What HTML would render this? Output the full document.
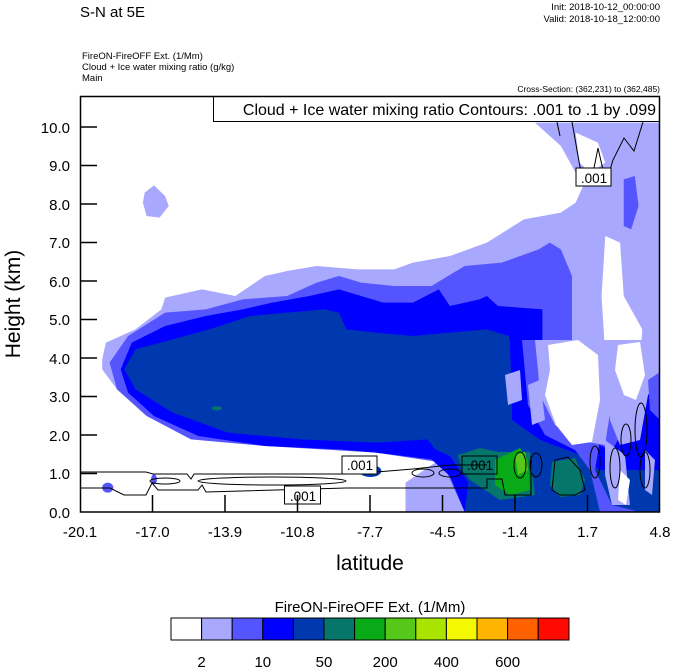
<!DOCTYPE html>
<html><head><meta charset="utf-8"><style>
body{margin:0;background:#fff;}
svg{display:block;font-family:"Liberation Sans",sans-serif;}
</style></head><body>
<svg width="674" height="668" viewBox="0 0 674 668">
<text x="80" y="17" font-size="15">S-N at 5E</text>
<text x="660" y="10" font-size="9.5" text-anchor="end">Init: 2018-10-12_00:00:00</text>
<text x="660" y="22" font-size="9.5" text-anchor="end">Valid: 2018-10-18_12:00:00</text>
<text x="82" y="59" font-size="9.5">FireON-FireOFF Ext.   (1/Mm)</text>
<text x="82" y="70" font-size="9.5">Cloud + Ice water mixing ratio   (g/kg)</text>
<text x="82" y="81" font-size="9.5">Main</text>
<text x="660" y="92" font-size="8.5" text-anchor="end">Cross-Section: (362,231) to (362,485)</text>
<svg x="80" y="96" width="580" height="416" viewBox="0 0 1568 1248" preserveAspectRatio="none">
<path fill="#a8a8ff" d="M60,790 L70,740 150,700 220,640 230,605 330,580 420,600 500,540 560,525 640,510 750,520 850,520 900,500 1000,480 1100,440 1200,370 1300,350 1340,320 1360,270 1300,150 1230,80 1568,80 1568,1248 880,1248 880,1160 920,1130 1000,1070 900,1060 700,1050 500,1040 300,1010 200,960 100,880 60,820Z"/>
<path fill="#a8a8ff" d="M175,290 L200,268 230,300 240,330 215,365 180,360 170,320Z"/>
<path fill="#5555ff" d="M80,800 L130,720 230,650 340,640 440,610 560,600 640,560 700,540 760,560 850,570 950,570 1040,510 1140,500 1240,460 1270,440 1300,460 1330,540 1330,800 1400,900 1450,980 1568,900 1568,1248 1040,1248 980,1100 800,1070 500,1050 300,1030 180,960 100,880Z"/>
<path fill="#5555ff" d="M1470,250 L1500,240 1510,330 1490,400 1470,390Z"/>
<path fill="#0000ff" d="M110,820 L140,740 230,690 340,660 440,640 520,620 620,600 700,580 760,600 820,620 900,620 970,580 1000,630 1080,610 1100,600 1130,630 1250,640 1250,760 1150,790 1110,850 1120,960 1160,1000 1240,1060 1300,1080 1360,1060 1420,1100 1500,940 1568,850 1568,1248 1040,1248 1000,1140 950,1090 800,1070 700,1060 500,1050 320,1020 200,960 130,890Z"/>
<path fill="#0038b0" d="M120,820 L150,760 250,730 350,700 460,660 560,650 660,640 700,650 720,700 800,710 900,720 1000,710 1100,700 1160,720 1160,760 1110,790 1100,900 1110,980 1150,1040 1200,1100 1250,1248 1040,1248 1050,1160 1000,1080 960,1060 940,1030 800,1040 600,1030 400,1010 250,950 150,880Z"/>
<path fill="#fff" d="M1420,420 L1460,440 1470,600 1520,700 1510,880 1460,900 1420,780 1410,600Z"/>
<path fill="#fff" d="M1340,110 L1400,140 1420,200 1380,230 1350,200Z"/>
<ellipse cx="370" cy="937" rx="14" ry="6" fill="#06766a"/>
<ellipse cx="785" cy="1125" rx="30" ry="18" fill="#0038b0"/>
<ellipse cx="75" cy="1175" rx="15" ry="15" fill="#5555ff"/>
<ellipse cx="200" cy="1150" rx="8" ry="15" fill="#5555ff"/>
</svg>
<!-- lower right detail in original coords -->
<path fill="#0038b0" d="M480,340 L510,340 512,420 540,440 580,455 600,470 660,470 660,512 480,512Z"/>
<path fill="#0000ff" d="M510,340 L525,340 530,400 548,430 590,440 610,450 640,440 660,420 660,470 600,470 580,455 540,440 512,420Z"/>
<path fill="#5555ff" d="M522,340 L545,340 540,400 560,430 600,440 595,470 612,505 640,512 600,512 590,470 575,450 545,435 528,405Z"/>
<path fill="#a8a8ff" d="M535,340 L610,340 612,400 605,445 575,440 555,425 540,395 538,370Z"/>
<path fill="#fff" d="M548,345 L578,340 598,355 600,400 592,442 572,445 556,425 545,395 550,370Z"/>
<path fill="#a8a8ff" d="M605,340 L660,340 660,380 648,395 640,440 620,445 610,420Z"/>
<path fill="#fff" d="M618,345 L640,342 645,375 636,400 624,395 615,370Z"/>
<path fill="#5555ff" d="M648,380 L660,372 660,420 650,410Z"/>
<path fill="#a8a8ff" d="M605,440 L625,455 630,505 612,505 605,475Z"/>
<path fill="#fff" d="M620,470 L630,480 626,505 618,500Z"/>
<path fill="#a8a8ff" d="M645,450 L655,460 652,495 645,490Z"/>
<path fill="#a8a8ff" d="M505,375 L520,370 522,400 508,405Z"/>
<path fill="#a8a8ff" d="M528,385 L540,380 545,420 532,425Z"/>
<path fill="#06766a" d="M458,455 L480,448 498,452 530,452 535,495 500,500 485,490 470,480 462,470Z"/>
<path fill="#06766a" d="M552,462 L575,458 585,480 580,495 560,497 550,485Z"/>
<path fill="#08aa18" d="M495,460 L520,448 528,460 530,490 510,495 495,485Z"/>
<path fill="#55c81a" d="M515,455 L525,452 528,470 518,475Z"/>
<g fill="none" stroke="#000" stroke-width="1">
<path d="M80,472 L146,472 153,474 187,474 191,479 194,474 346,474 376,472 413,469 450,465 487,465"/>
<path d="M80,488 L110,488 124,495 146,495 152,483 158,490 198,490 202,485 206,492 346,488 487,488 487,479 502,479 505,495 531,495 531,456"/>
<ellipse cx="272" cy="481" rx="74" ry="4"/>
<ellipse cx="165" cy="481" rx="15" ry="3"/>
<ellipse cx="423" cy="473" rx="11" ry="4"/>
<ellipse cx="450" cy="473" rx="11" ry="4"/>
<ellipse cx="520" cy="465" rx="6" ry="13"/>
<ellipse cx="536" cy="465" rx="6" ry="12"/>
<path d="M552,490 L555,460 568,457 580,470 585,490 575,495 560,495Z"/>
<ellipse cx="595" cy="462" rx="5" ry="16"/>
<ellipse cx="615" cy="468" rx="5" ry="20"/>
<ellipse cx="626" cy="440" rx="5" ry="16"/>
<ellipse cx="641" cy="430" rx="6" ry="27"/>
<ellipse cx="645" cy="470" rx="5" ry="18"/>
<path d="M572,122 L580,167 591,183 598,148 606,183 613,160 624,138 634,151 643,122"/>
<path d="M557,122 L560,136"/>
</g>
<g stroke="#000" stroke-width="1">
<rect x="342" y="456" width="35" height="18" fill="#fff"/>
<rect x="462" y="456" width="35" height="18" fill="none"/>
<rect x="284.5" y="486" width="36" height="18" fill="#fff"/>
<rect x="576" y="168" width="35" height="18" fill="#fff"/>
</g>
<g font-size="13.5" text-anchor="middle">
<text x="360" y="470">.001</text>
<text x="480" y="470">.001</text>
<text x="303" y="501">.001</text>
<text x="594" y="183">.001</text>
</g>
<rect x="213.5" y="96.5" width="446" height="25" fill="#fff" stroke="#000"/>
<text x="656" y="115" font-size="16" text-anchor="end">Cloud + Ice water mixing ratio Contours: .001 to .1 by .099</text>
<rect x="80.5" y="96.5" width="579" height="415.5" fill="none" stroke="#000" stroke-width="1.5"/>
<g stroke="#000" stroke-width="1.5">
<line x1="80" y1="127" x2="97" y2="127"/><line x1="80" y1="165.5" x2="97" y2="165.5"/><line x1="80" y1="204" x2="97" y2="204"/><line x1="80" y1="242.5" x2="97" y2="242.5"/><line x1="80" y1="281" x2="97" y2="281"/><line x1="80" y1="319.5" x2="97" y2="319.5"/><line x1="80" y1="358" x2="97" y2="358"/><line x1="80" y1="396.5" x2="97" y2="396.5"/><line x1="80" y1="435" x2="97" y2="435"/><line x1="80" y1="473.5" x2="97" y2="473.5"/>
<line x1="152.5" y1="512" x2="152.5" y2="495"/><line x1="225" y1="512" x2="225" y2="495"/><line x1="297.5" y1="512" x2="297.5" y2="495"/><line x1="370" y1="512" x2="370" y2="495"/><line x1="442.5" y1="512" x2="442.5" y2="495"/><line x1="515" y1="512" x2="515" y2="495"/><line x1="587.5" y1="512" x2="587.5" y2="495"/>
</g>
<g font-size="15" text-anchor="end">
<text x="70" y="133">10.0</text><text x="70" y="171">9.0</text><text x="70" y="210">8.0</text><text x="70" y="248">7.0</text><text x="70" y="287">6.0</text><text x="70" y="325">5.0</text><text x="70" y="364">4.0</text><text x="70" y="402">3.0</text><text x="70" y="441">2.0</text><text x="70" y="479">1.0</text><text x="70" y="518">0.0</text>
</g>
<g font-size="15" text-anchor="middle">
<text x="80" y="537">-20.1</text><text x="152.5" y="537">-17.0</text><text x="225" y="537">-13.9</text><text x="297.5" y="537">-10.8</text><text x="370" y="537">-7.7</text><text x="442.5" y="537">-4.5</text><text x="515" y="537">-1.4</text><text x="587.5" y="537">1.7</text><text x="660" y="537">4.8</text>
</g>
<text x="370" y="570" font-size="21" text-anchor="middle">latitude</text>
<text transform="translate(20,304) rotate(-90)" font-size="21" text-anchor="middle">Height (km)</text>
<text x="370" y="612" font-size="15" text-anchor="middle">FireON-FireOFF Ext.  (1/Mm)</text>
<g stroke="#000" stroke-width="1">
<rect x="171" y="618" width="30.6" height="22" fill="#ffffff"/>
<rect x="201.6" y="618" width="30.6" height="22" fill="#a8a8ff"/>
<rect x="232.2" y="618" width="30.6" height="22" fill="#5555ff"/>
<rect x="262.8" y="618" width="30.6" height="22" fill="#0000ff"/>
<rect x="293.4" y="618" width="30.6" height="22" fill="#0038b0"/>
<rect x="324" y="618" width="30.6" height="22" fill="#06766a"/>
<rect x="354.6" y="618" width="30.6" height="22" fill="#08aa18"/>
<rect x="385.2" y="618" width="30.6" height="22" fill="#55c81a"/>
<rect x="415.8" y="618" width="30.6" height="22" fill="#a8e400"/>
<rect x="446.4" y="618" width="30.6" height="22" fill="#f4f800"/>
<rect x="477" y="618" width="30.6" height="22" fill="#ffb400"/>
<rect x="507.6" y="618" width="30.6" height="22" fill="#ff6000"/>
<rect x="538.2" y="618" width="30.8" height="22" fill="#ff0a00"/>
</g>
<g font-size="15" text-anchor="middle">
<text x="201.6" y="667">2</text><text x="262.8" y="667">10</text><text x="324" y="667">50</text><text x="385.2" y="667">200</text><text x="446.4" y="667">400</text><text x="507.6" y="667">600</text>
</g>
</svg>
</body></html>
